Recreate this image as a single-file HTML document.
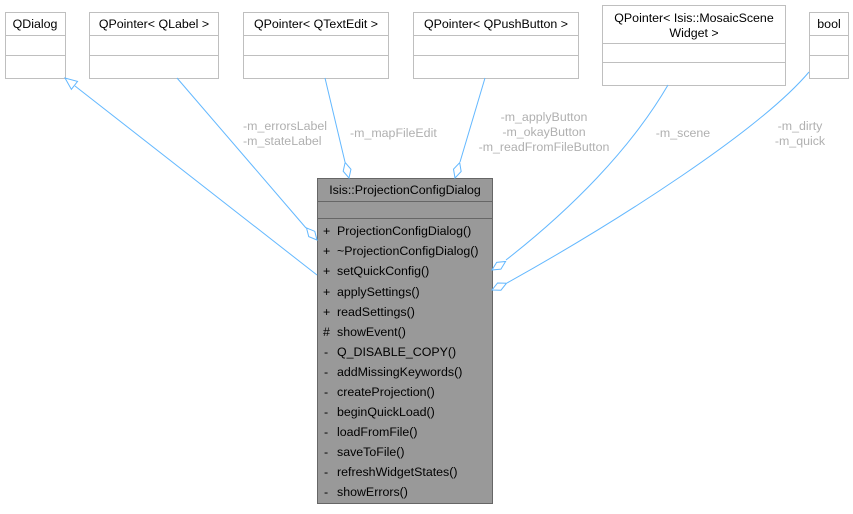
<!DOCTYPE html>
<html><head><meta charset="utf-8"><style>
html,body{margin:0;padding:0;background:#fff;}
svg text{font-family:"Liberation Sans",sans-serif;font-size:12.4px;}
</style></head><body>
<svg width="853" height="509" viewBox="0 0 853 509" xmlns="http://www.w3.org/2000/svg">
<g fill="#fff" stroke="#bfbfbf" stroke-width="1">
<rect x="5.5" y="12.5" width="60" height="66"/><line x1="5.5" y1="35.5" x2="65.5" y2="35.5"/><line x1="5.5" y1="55.5" x2="65.5" y2="55.5"/>
<rect x="89.5" y="12.5" width="129" height="66"/><line x1="89.5" y1="35.5" x2="218.5" y2="35.5"/><line x1="89.5" y1="55.5" x2="218.5" y2="55.5"/>
<rect x="243.5" y="12.5" width="145" height="66"/><line x1="243.5" y1="35.5" x2="388.5" y2="35.5"/><line x1="243.5" y1="55.5" x2="388.5" y2="55.5"/>
<rect x="413.5" y="12.5" width="165" height="66"/><line x1="413.5" y1="35.5" x2="578.5" y2="35.5"/><line x1="413.5" y1="55.5" x2="578.5" y2="55.5"/>
<rect x="602.5" y="5.5" width="183" height="80"/><line x1="602.5" y1="43.5" x2="785.5" y2="43.5"/><line x1="602.5" y1="62.5" x2="785.5" y2="62.5"/>
<rect x="809.5" y="12.5" width="39" height="66"/><line x1="809.5" y1="35.5" x2="848.5" y2="35.5"/><line x1="809.5" y1="55.5" x2="848.5" y2="55.5"/>
</g>
<g fill="#000">
<text x="35" y="28" text-anchor="middle">QDialog</text>
<text x="154" y="28" text-anchor="middle">QPointer&lt; QLabel &gt;</text>
<text x="316" y="28" text-anchor="middle">QPointer&lt; QTextEdit &gt;</text>
<text x="496" y="28" text-anchor="middle">QPointer&lt; QPushButton &gt;</text>
<text x="694" y="22" text-anchor="middle">QPointer&lt; Isis::MosaicScene</text>
<text x="694" y="37" text-anchor="middle">Widget &gt;</text>
<text x="829" y="28" text-anchor="middle">bool</text>
</g>
<rect x="317.5" y="178.5" width="175" height="325" fill="#999" stroke="#666"/>
<line x1="317.5" y1="201.5" x2="492.5" y2="201.5" stroke="#666"/>
<line x1="317.5" y1="218.5" x2="492.5" y2="218.5" stroke="#666"/>
<text x="405" y="194" text-anchor="middle">Isis::ProjectionConfigDialog</text>
<g fill="#000">
<text x="323" y="235">+</text><text x="337" y="235">ProjectionConfigDialog()</text>
<text x="323" y="255">+</text><text x="337" y="255">~ProjectionConfigDialog()</text>
<text x="323" y="275">+</text><text x="337" y="275">setQuickConfig()</text>
<text x="323" y="296">+</text><text x="337" y="296">applySettings()</text>
<text x="323" y="316">+</text><text x="337" y="316">readSettings()</text>
<text x="323" y="336">#</text><text x="337" y="336">showEvent()</text>
<text x="324" y="356">-</text><text x="337" y="356">Q_DISABLE_COPY()</text>
<text x="324" y="376">-</text><text x="337" y="376">addMissingKeywords()</text>
<text x="324" y="396">-</text><text x="337" y="396">createProjection()</text>
<text x="324" y="416">-</text><text x="337" y="416">beginQuickLoad()</text>
<text x="324" y="436">-</text><text x="337" y="436">loadFromFile()</text>
<text x="324" y="456">-</text><text x="337" y="456">saveToFile()</text>
<text x="324" y="476">-</text><text x="337" y="476">refreshWidgetStates()</text>
<text x="324" y="496">-</text><text x="337" y="496">showErrors()</text>
</g>
<g stroke="#63b8ff" fill="none" stroke-width="1">
<line x1="317" y1="275" x2="75" y2="86"/>
<line x1="177" y1="78" x2="306" y2="228"/>
<line x1="325" y1="78" x2="345" y2="162"/>
<line x1="485" y1="78" x2="460" y2="162"/>
<path d="M668,85 C630,150 570,210 506,260"/>
<path d="M809,72 C760,130 620,220 507,283"/>
</g>
<g stroke="#63b8ff" fill="#fff" stroke-width="1">
<polygon points="0,0 -12,-5 -12,5" transform="translate(65,78) rotate(218)"/>
<polygon points="0,0 -8,-4 -16,0 -8,4" transform="translate(317,240) rotate(49)"/>
<polygon points="0,0 -8,-4 -16,0 -8,4" transform="translate(349,178) rotate(76)"/>
<polygon points="0,0 -8,-4 -16,0 -8,4" transform="translate(455,178) rotate(107)"/>
<polygon points="0,0 -8,-4 -16,0 -8,4" transform="translate(492,270) rotate(148)"/>
<polygon points="0,0 -8,-4 -16,0 -8,4" transform="translate(492,290) rotate(155)"/>
</g>
<g fill="#b0b0b0">
<text x="243" y="130">-m_errorsLabel</text>
<text x="243" y="145">-m_stateLabel</text>
<text x="350" y="137">-m_mapFileEdit</text>
<text x="544" y="121" text-anchor="middle">-m_applyButton</text>
<text x="544" y="136" text-anchor="middle">-m_okayButton</text>
<text x="544" y="151" text-anchor="middle">-m_readFromFileButton</text>
<text x="683" y="137" text-anchor="middle">-m_scene</text>
<text x="800" y="130" text-anchor="middle">-m_dirty</text>
<text x="800" y="145" text-anchor="middle">-m_quick</text>
</g>
</svg>
</body></html>
